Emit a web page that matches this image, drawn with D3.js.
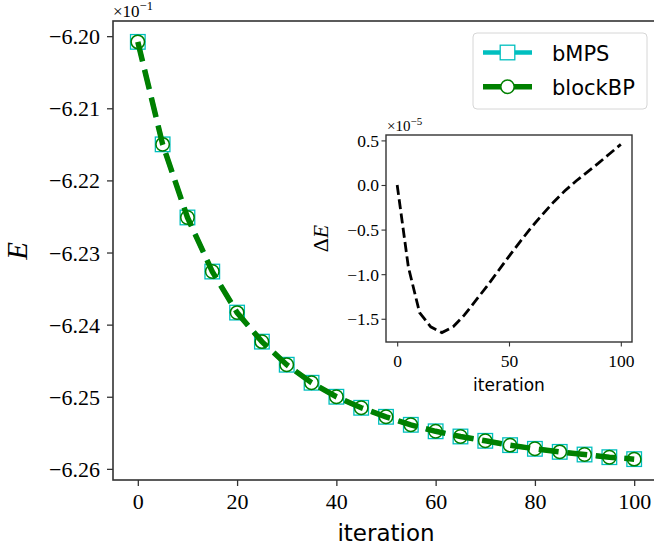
<!DOCTYPE html>
<html lang="en">
<head>
    <meta charset="UTF-8">
    <script src="https://d3js.org/d3.v7.min.js"></script>
    <style>
        body{ margin:0; background:#fff; }
        svg{ overflow:hidden; display:block; }
        .tick text{ font-family:'Liberation Serif', serif; fill:#000; }
    </style>
    <title>E vs iteration</title>
</head>
<body>
    <div class="canvas"></div>
</body>
<script>
    // data
    const iterations = [0,5,10,15,20,25,30,35,40,45,50,55,60,65,70,75,80,85,90,95,100];
    const bMPS = [-0.620079,-0.621500,-0.622514,-0.623264,-0.623833,-0.624236,-0.624556,-0.624806,-0.625000,-0.625153,
                  -0.625278,-0.625389,-0.625479,-0.625551,-0.625611,-0.625671,-0.625722,-0.625764,-0.625801,-0.625838,-0.625865];
    const blockBP = [-0.620079,-0.621500,-0.622514,-0.623264,-0.623833,-0.624236,-0.624556,-0.624806,-0.625000,-0.625153,
                  -0.625278,-0.625389,-0.625479,-0.625551,-0.625611,-0.625671,-0.625722,-0.625764,-0.625801,-0.625838,-0.625865];
    const deltaE = [0,-0.92e-5,-1.43e-5,-1.59e-5,-1.655e-5,-1.59e-5,-1.46e-5,-1.30e-5,-1.14e-5,-0.97e-5,
                    -0.80e-5,-0.635e-5,-0.475e-5,-0.33e-5,-0.19e-5,-0.065e-5,0.045e-5,0.145e-5,0.245e-5,0.35e-5,0.455e-5];
    const mainXTicks = [0,20,40,60,80,100];
    const mainYTicks = [-0.620,-0.621,-0.622,-0.623,-0.624,-0.625,-0.626];
    const insetXTicks = [0,50,100];
    const insetYTicks = [0.5e-5,0,-0.5e-5,-1.0e-5,-1.5e-5];
    const seriesNames = ['bMPS','blockBP'];

    const width = 654;
    const height = 549;
    const cyan = '#00bfbf';
    const green = '#008000';
    const spine = '#333';

    const svg = d3.select('.canvas')
                    .append('svg')
                    .attr('width',width)
                    .attr('height',height);

    // matplotlib-like 5% margins
    const pad = ext => { const r = ext[1]-ext[0]; return [ext[0]-0.05*r, ext[1]+0.05*r]; };
    const fmtMinus = s => s.replace('-','\u2212');

    // ---------- main axes ----------
    const [ml,mt,mr,mb] = [113,21,659,480];
    const x = d3.scaleLinear().domain(pad(d3.extent(iterations))).range([ml,mr]);
    const y = d3.scaleLinear().domain(pad(d3.extent(bMPS.concat(blockBP)))).range([mb,mt]);

    const xAxisG = svg.append('g').attr('transform',`translate(0,${mb})`)
        .call(d3.axisBottom(x).tickValues(mainXTicks).tickSize(6).tickSizeOuter(0));
    xAxisG.select('.domain').remove();
    xAxisG.selectAll('line').attr('stroke',spine).attr('stroke-width',1.3);
    xAxisG.selectAll('text').attr('y',29).attr('dy',null).style('font-size','22px');

    const yAxisG = svg.append('g').attr('transform',`translate(${ml},0)`)
        .call(d3.axisLeft(y).tickValues(mainYTicks).tickSize(6).tickSizeOuter(0)
                .tickFormat(d => fmtMinus((d*10).toFixed(2))));
    yAxisG.select('.domain').remove();
    yAxisG.selectAll('line').attr('stroke',spine).attr('stroke-width',1.3);
    yAxisG.selectAll('text').attr('x',-13).attr('dy','0.34em').style('font-size','22px');

    svg.append('rect')
        .attr('x',ml).attr('y',mt).attr('width',mr-ml).attr('height',mb-mt)
        .attr('fill','none').attr('stroke',spine).attr('stroke-width',1.6);

    // offset text
    const off1 = svg.append('text').attr('x',ml).attr('y',17)
        .style('font-family','Liberation Serif, serif').style('font-size','17px');
    off1.append('tspan').text('\u00d710');
    off1.append('tspan').attr('dy',-7).style('font-size','12.5px').text('\u22121');

    // axis labels
    svg.append('text').attr('x',(ml+mr)/2).attr('y',541)
        .attr('text-anchor','middle')
        .style('font-family','DejaVu Sans, sans-serif').style('font-size','23px')
        .text('iteration');
    svg.append('text').attr('transform','translate(27,251) rotate(-90)')
        .attr('text-anchor','middle')
        .style('font-family','Liberation Serif, serif').style('font-style','italic').style('font-size','29px')
        .text('E');

    // series
    const line = d3.line().x((d,i)=>x(iterations[i])).y(d=>y(d));

    svg.append('path')
        .attr('d',line(bMPS))
        .attr('fill','none').attr('stroke',cyan).attr('stroke-width',4.5)
        .attr('stroke-dasharray','20,8.7');
    svg.selectAll('rect.sq').data(bMPS).enter()
        .append('rect').attr('class','sq')
        .attr('x',(d,i)=>x(iterations[i])-7.3).attr('y',d=>y(d)-7.3)
        .attr('width',14.6).attr('height',14.6)
        .attr('fill','#fff').attr('stroke',cyan).attr('stroke-width',1.3);

    svg.append('path')
        .attr('d',line(blockBP))
        .attr('fill','none').attr('stroke',green).attr('stroke-width',5.5)
        .attr('stroke-dasharray','20,8.7');
    svg.selectAll('circle.ci').data(blockBP).enter()
        .append('circle').attr('class','ci')
        .attr('cx',(d,i)=>x(iterations[i])).attr('cy',d=>y(d)).attr('r',6.7)
        .attr('fill','none').attr('stroke',green).attr('stroke-width',1.5);

    // ---------- inset ----------
    const [il,it,ir,ib] = [386,135,632,342];
    const xi = d3.scaleLinear().domain(pad(d3.extent(iterations))).range([il,ir]);
    const yi = d3.scaleLinear().domain(pad(d3.extent(deltaE))).range([ib,it]);

    svg.append('rect').attr('x',il).attr('y',it).attr('width',ir-il).attr('height',ib-it).attr('fill','#fff');

    const ixG = svg.append('g').attr('transform',`translate(0,${ib})`)
        .call(d3.axisBottom(xi).tickValues(insetXTicks).tickSize(4.5).tickSizeOuter(0));
    ixG.select('.domain').remove();
    ixG.selectAll('line').attr('stroke',spine).attr('stroke-width',1.1);
    ixG.selectAll('text').attr('y',25).attr('dy',null).style('font-size','17.5px');

    const iyG = svg.append('g').attr('transform',`translate(${il},0)`)
        .call(d3.axisLeft(yi).tickValues(insetYTicks).tickSize(4.5).tickSizeOuter(0)
                .tickFormat(d => fmtMinus((d*1e5).toFixed(1))));
    iyG.select('.domain').remove();
    iyG.selectAll('line').attr('stroke',spine).attr('stroke-width',1.1);
    iyG.selectAll('text').attr('x',-7).attr('dy','0.34em').style('font-size','17.5px');

    svg.append('path')
        .attr('d',d3.line().x((d,i)=>xi(iterations[i])).y(d=>yi(d))(deltaE))
        .attr('fill','none').attr('stroke','#000').attr('stroke-width',2.8)
        .attr('stroke-dasharray','10,4.4');

    svg.append('rect')
        .attr('x',il).attr('y',it).attr('width',ir-il).attr('height',ib-it)
        .attr('fill','none').attr('stroke',spine).attr('stroke-width',1.4);

    const off5 = svg.append('text').attr('x',il+1).attr('y',131)
        .style('font-family','Liberation Serif, serif').style('font-size','15px');
    off5.append('tspan').text('\u00d710');
    off5.append('tspan').attr('dy',-6).style('font-size','11px').text('\u22125');

    svg.append('text').attr('x',(il+ir)/2).attr('y',391)
        .attr('text-anchor','middle')
        .style('font-family','DejaVu Sans, sans-serif').style('font-size','17px')
        .text('iteration');
    const dl = svg.append('text').attr('transform',`translate(328,${(it+ib)/2}) rotate(-90)`)
        .attr('text-anchor','middle')
        .style('font-family','Liberation Serif, serif').style('font-size','22px');
    dl.append('tspan').text('\u0394');
    dl.append('tspan').style('font-style','italic').text('E');

    // ---------- legend ----------
    const legend = svg.append('g');
    legend.append('rect')
        .attr('x',473).attr('y',33).attr('width',174).attr('height',76).attr('rx',4)
        .attr('fill','#fff').attr('fill-opacity',0.8).attr('stroke','#d6d6d6').attr('stroke-width',1);
    const rows = [52.5, 86.7];
    seriesNames.forEach((name,i)=>{
        const ly = rows[i];
        legend.append('line').attr('x1',483).attr('x2',532).attr('y1',ly).attr('y2',ly)
            .attr('stroke', i===0 ? cyan : green).attr('stroke-width', i===0 ? 4.5 : 5.5);
        if(i===0){
            legend.append('rect').attr('x',507.5-7.3).attr('y',ly-7.3).attr('width',14.6).attr('height',14.6)
                .attr('fill','#fff').attr('stroke',cyan).attr('stroke-width',1.3);
        }else{
            legend.append('circle').attr('cx',507.5).attr('cy',ly).attr('r',6.7)
                .attr('fill','#fff').attr('stroke',green).attr('stroke-width',1.5);
        }
        legend.append('text').attr('x',552).attr('y',ly+8)
            .style('font-family','DejaVu Sans, sans-serif').style('font-size','21px')
            .text(name);
    });
</script>
</html>
